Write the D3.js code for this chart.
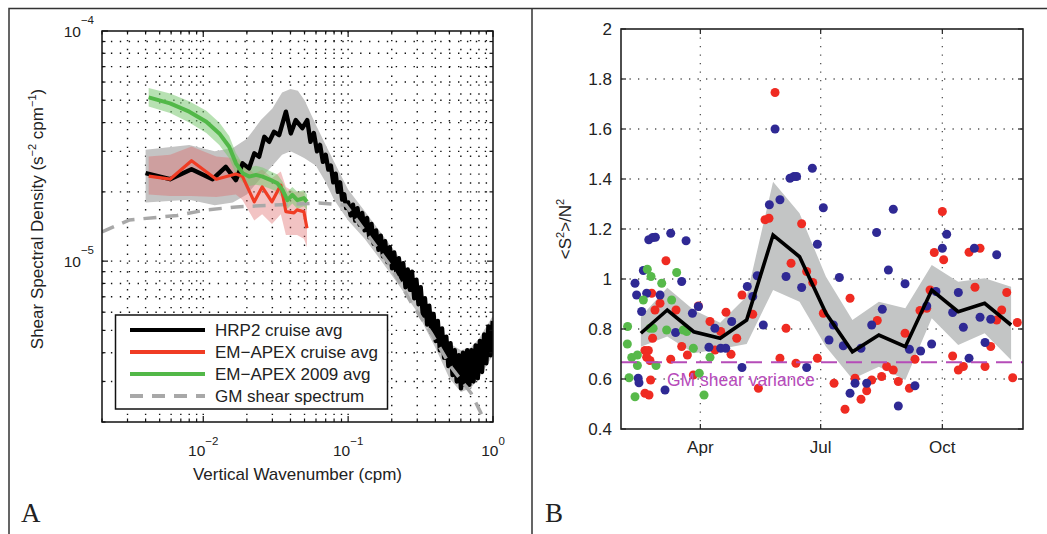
<!DOCTYPE html>
<html><head><meta charset="utf-8">
<script src="https://cdnjs.cloudflare.com/ajax/libs/d3/7.8.5/d3.min.js"></script>
<style>
body{margin:0;background:#fff}
svg{display:block}
text{font-family:"Liberation Sans",Arial,Helvetica,sans-serif;fill:#222}
</style>
</head><body>
<svg id="chart" width="1047" height="534"></svg>
<script>
// ================= PANEL A DATA (wavenumber cpm, spectral density s^-2 cpm^-1) =================
const hrpSpectrum = [
 [0.004,2.41e-5],[0.0059,2.27e-5],[0.0083,2.51e-5],[0.0116,2.27e-5],[0.0143,2.57e-5],[0.0168,2.25e-5],
 [0.0187,2.66e-5],[0.0207,2.53e-5],[0.0225,2.94e-5],[0.0243,2.84e-5],[0.0264,3.47e-5],[0.0285,3.30e-5],
 [0.0308,3.65e-5],[0.0334,3.53e-5],[0.0372,4.46e-5],[0.0402,3.59e-5],[0.0435,4.10e-5],[0.0483,3.78e-5],
 [0.0522,4.10e-5],[0.055,3.3e-5],[0.058,3.6e-5],[0.061,3.0e-5],[0.064,3.2e-5],[0.067,2.7e-5],[0.070,2.9e-5],
 [0.073,2.5e-5],[0.076,2.6e-5],[0.079,2.2e-5],[0.082,2.4e-5],[0.085,2.0e-5],[0.088,2.2e-5],[0.091,1.85e-5],
 [0.094,1.95e-5],[0.097,1.7e-5],[0.100,1.8e-5],[0.104,1.58e-5],[0.108,1.76e-5],[0.112,1.50e-5],[0.116,1.70e-5],
 [0.120,1.44e-5],[0.125,1.62e-5],[0.130,1.36e-5],[0.135,1.54e-5],[0.140,1.27e-5],[0.145,1.45e-5],[0.150,1.19e-5],
 [0.156,1.36e-5],[0.162,1.12e-5],[0.168,1.29e-5],[0.174,1.05e-5],[0.180,1.22e-5],[0.187,9.9e-6],[0.194,1.15e-5],
 [0.201,9.3e-6],[0.208,1.09e-5],[0.216,8.7e-6],[0.224,1.03e-5],[0.232,8.3e-6],[0.240,9.8e-6],[0.249,7.7e-6],
 [0.258,9.2e-6],[0.267,7.5e-6],[0.276,9.0e-6],[0.286,6.9e-6],[0.296,8.3e-6],[0.306,6.5e-6],[0.317,7.7e-6],
 [0.328,5.8e-6],[0.339,6.9e-6],[0.351,5.3e-6],[0.363,6.4e-6],[0.376,4.9e-6],[0.389,5.9e-6],[0.402,4.5e-6],
 [0.416,5.5e-6],[0.430,4.1e-6],[0.445,5.1e-6],[0.460,3.8e-6],[0.476,4.7e-6],[0.492,3.5e-6],[0.509,4.4e-6],
 [0.526,3.2e-6],[0.544,4.1e-6],[0.562,3.0e-6],[0.581,3.9e-6],[0.601,2.8e-6],[0.621,4.0e-6],[0.642,2.9e-6],
 [0.664,4.1e-6],[0.687,2.9e-6],[0.710,4.1e-6],[0.734,3.0e-6],[0.759,4.3e-6],[0.785,3.1e-6],[0.812,4.5e-6],
 [0.840,3.3e-6],[0.869,4.8e-6],[0.899,3.6e-6],[0.930,5.2e-6],[0.962,3.9e-6],[0.995,5.5e-6]
];
// [k, lower, upper]
const hrpBand = [
 [0.004,1.8e-5,3.05e-5],[0.008,1.85e-5,3.2e-5],[0.012,1.75e-5,3.0e-5],[0.016,1.8e-5,3.1e-5],[0.02,1.95e-5,3.4e-5],
 [0.025,2.3e-5,4.1e-5],[0.03,2.6e-5,4.6e-5],[0.035,2.9e-5,5.4e-5],[0.04,3.0e-5,5.6e-5],[0.045,2.9e-5,5.5e-5],
 [0.05,2.8e-5,5.0e-5],[0.06,2.6e-5,3.9e-5],[0.07,2.2e-5,3.2e-5],[0.08,1.85e-5,2.7e-5],[0.1,1.5e-5,2.05e-5],
 [0.13,1.25e-5,1.65e-5],[0.17,1.0e-5,1.32e-5],[0.22,8.0e-6,1.06e-5],[0.3,6.0e-6,8.0e-6],[0.4,4.2e-6,5.6e-6],
 [0.5,3.1e-6,4.4e-6],[0.6,2.7e-6,4.1e-6],[0.7,2.8e-6,4.2e-6],[0.8,3.1e-6,4.6e-6],[0.9,3.5e-6,5.2e-6],[1.0,3.9e-6,5.8e-6]
];
const apexCruise = [
 [0.0042,2.34e-5],[0.0059,2.27e-5],[0.0083,2.73e-5],[0.0123,2.27e-5],[0.0168,2.39e-5],[0.0186,2.34e-5],
 [0.0225,1.81e-5],[0.0255,2.10e-5],[0.0298,1.81e-5],[0.0343,2.14e-5],[0.0372,1.64e-5],[0.0423,1.62e-5],
 [0.0444,1.67e-5],[0.0495,1.64e-5],[0.052,1.39e-5]
];
const apexCruiseBand = [
 [0.0042,1.95e-5,2.85e-5],[0.0059,1.92e-5,2.9e-5],[0.0083,1.92e-5,3.15e-5],[0.0123,1.9e-5,2.85e-5],
 [0.0168,1.95e-5,2.8e-5],[0.0186,1.85e-5,2.7e-5],[0.0225,1.5e-5,2.4e-5],[0.0255,1.6e-5,2.5e-5],
 [0.0298,1.45e-5,2.3e-5],[0.0343,1.6e-5,2.45e-5],[0.0372,1.3e-5,2.1e-5],[0.0423,1.3e-5,2.0e-5],
 [0.0444,1.3e-5,2.0e-5],[0.0495,1.25e-5,2.0e-5],[0.052,1.15e-5,1.8e-5]
];
const apex2009 = [
 [0.0042,5.15e-5],[0.0059,4.85e-5],[0.0080,4.46e-5],[0.0105,4.03e-5],[0.0129,3.59e-5],[0.0151,3.14e-5],
 [0.0168,2.66e-5],[0.0187,2.41e-5],[0.0207,2.33e-5],[0.0231,2.37e-5],[0.0257,2.33e-5],[0.0293,2.25e-5],
 [0.0325,2.18e-5],[0.0352,2.04e-5],[0.0381,1.84e-5],[0.0412,1.94e-5],[0.0446,1.84e-5],[0.0495,1.88e-5],[0.052,1.81e-5]
];
const apex2009Band = [
 [0.0042,4.7e-5,5.65e-5],[0.0059,4.4e-5,5.35e-5],[0.0080,4.0e-5,4.95e-5],[0.0105,3.6e-5,4.5e-5],
 [0.0129,3.2e-5,4.0e-5],[0.0151,2.8e-5,3.5e-5],[0.0168,2.4e-5,2.95e-5],[0.0187,2.2e-5,2.65e-5],
 [0.0207,2.12e-5,2.55e-5],[0.0231,2.15e-5,2.6e-5],[0.0257,2.12e-5,2.55e-5],[0.0293,2.06e-5,2.45e-5],
 [0.0325,2.0e-5,2.38e-5],[0.0352,1.87e-5,2.22e-5],[0.0381,1.69e-5,2.0e-5],[0.0412,1.78e-5,2.1e-5],
 [0.0446,1.69e-5,2.0e-5],[0.0495,1.73e-5,2.03e-5],[0.052,1.67e-5,1.95e-5]
];
const gmSpectrum = [
 [0.002,1.34e-5],[0.0031,1.51e-5],[0.0066,1.58e-5],[0.0105,1.67e-5],[0.0169,1.72e-5],[0.0628,1.79e-5],
 [0.0964,1.75e-5],[0.19,9.8e-6],[0.274,6.56e-6],[0.375,4.86e-6],[0.515,3.46e-6],[0.706,2.67e-6],[0.828,2.18e-6],[1.0,1.8e-6]
];
const xTicksA = [0.01, 0.1, 1];
const xTickExpA = ["\u22122", "\u22121", "0"];
const yTicksA = [1e-5, 1e-4];
const yTickExpA = ["\u22125", "\u22124"];
const legendLabels = ["HRP2 cruise avg", "EM\u2212APEX cruise avg", "EM\u2212APEX 2009 avg", "GM shear spectrum"];

// ================= PANEL B DATA (day of year 2010, <S^2>/N^2) =================
const meanLine = [[46,0.783],[66,0.876],[86,0.789],[106,0.763],[126,0.836],[146,1.176],[166,1.089],[186,0.863],
 [206,0.709],[226,0.776],[246,0.729],[266,0.956],[286,0.869],[306,0.903],[326,0.816]];
const meanBand = [[46,0.729,0.849],[66,0.77,0.965],[86,0.703,0.876],[106,0.72,0.825],[126,0.74,0.93],
 [146,0.956,1.389],[166,0.909,1.263],[186,0.729,1.009],[206,0.6,0.836],[226,0.649,0.909],[246,0.596,0.883],
 [266,0.843,1.056],[286,0.736,0.989],[306,0.783,1.003],[326,0.676,0.969]];
const redDots = [[147.5,1.746],[274,1.270],[65,1.073],[49.1,0.714],[51.7,0.714],[50.4,0.687],[52.9,0.674],
 [49.1,0.543],[52.2,0.536],[53.4,0.596],[54.9,0.763],[56.7,0.876],[54.2,0.943],[60.5,0.903],[72.6,0.876],
 [68.6,0.679],[76.9,0.730],[81.2,0.696],[89.5,0.892],[85.7,0.616],[98.3,0.830],[102.1,0.716],[106.4,0.790],
 [110.4,0.867],[114.2,0.699],[118.5,0.763],[122.5,0.936],[130.6,0.859],[134.9,0.563],[139.9,1.237],
 [142.9,1.243],[151.2,0.683],[155.8,0.803],[159.6,1.063],[163.3,0.663],[167.6,1.221],[171.4,1.030],
 [176,0.986],[179.5,0.683],[184,0.863],[192.1,0.583],[204.2,0.923],[200.4,0.479],[208,0.603],[212.5,0.519],
 [216.8,0.553],[220.6,0.596],[224.8,0.834],[228.1,0.610],[231.9,0.650],[236.9,0.636],[240.7,0.590],
 [245.8,0.783],[249.1,0.563],[253.3,0.679],[257.1,0.874],[262.2,0.883],[264.7,0.956],[267.9,1.106],
 [275,1.077],[281.8,0.692],[286.1,0.636],[289.9,0.650],[294.2,1.107],[298.7,0.967],[302.5,1.123],
 [306.3,0.650],[310.6,0.730],[315.1,0.836],[318.9,0.876],[322.7,0.946],[327.2,0.605],[330.7,0.826]];
const blueDots = [[41.6,0.983],[42.8,0.936],[46.6,0.870],[47.9,1.034],[50.4,0.943],[52,1.157],[55,1.166],
 [57,1.167],[60.5,0.936],[68.6,1.183],[72.3,0.786],[76.9,0.990],[80.2,1.153],[85,0.863],[89.5,0.890],
 [44,0.603],[44.6,0.585],[64.3,0.556],[97.5,0.727],[102,0.803],[106.4,0.723],[110.2,0.723],[114.7,0.830],
 [122.5,0.646],[126.5,0.970],[130.6,0.930],[134,1.013],[138.6,0.816],[143.2,1.297],[147.5,1.600],
 [151.2,1.317],[155.8,1.010],[158.8,1.403],[161.8,1.410],[163.8,1.410],[167.6,0.966],[171.4,0.646],
 [175.7,1.443],[179.5,1.139],[184,1.285],[188.3,0.756],[191.6,0.816],[196.1,1.006],[199.1,0.733],
 [204.2,0.543],[208,0.583],[212.5,0.723],[216.8,0.583],[220.6,0.816],[224.3,1.186],[228.6,0.879],
 [233.2,1.036],[236.9,1.279],[240.7,0.492],[245.8,0.981],[249.1,0.719],[253.3,0.573],[257.6,0.712],
 [262.2,0.892],[265.9,0.740],[269.2,0.950],[274,1.123],[277.3,1.179],[281.8,0.866],[286.1,0.946],
 [289.9,0.807],[294.2,0.683],[298.2,1.123],[302.5,0.847],[306.3,0.746],[310.6,0.839],[315.1,1.097]];
const greenDots = [[36,0.810],[35.8,0.740],[37.1,0.605],[39.1,0.686],[41.6,0.529],[43.4,0.696],[43.4,0.654],
 [47.9,0.916],[50.9,1.039],[53.7,1.010],[52.9,0.803],[55.3,0.803],[57.5,0.654],[61.8,0.983],[65.5,0.796],
 [69.3,0.916],[73.1,1.026],[78.1,0.796],[80.7,0.790],[85.7,0.723],[90.2,0.623],[93.8,0.536],[98.3,0.687]];
const gmVariance = 0.667;
const yTicksB = [0.4,0.6,0.8,1,1.2,1.4,1.6,1.8,2];
const monthTicks = [91, 182, 274];
const monthLabels = ["Apr","Jul","Oct"];

// ================= DRAW =================
const svg = d3.select("#chart");
const defs = svg.append("defs");

// outer figure frame
svg.append("path").attr("d","M9,534V8.5H1047M532,8.5V534")
  .attr("fill","none").attr("stroke","#333").attr("stroke-width",1.5);

// ---------- Panel A ----------
const A = {l:102, r:493, t:31, b:422};
const xA = d3.scaleLog().domain([0.002,1]).range([A.l,A.r]);
const yA = d3.scaleLog().domain([2e-6,1e-4]).range([A.b,A.t]);
defs.append("clipPath").attr("id","clipA").append("rect")
  .attr("x",A.l).attr("y",A.t).attr("width",A.r-A.l).attr("height",A.b-A.t);
const gA = svg.append("g");
const xGridA = xA.ticks().filter(v => xA(v) > A.l+1 && xA(v) < A.r-1);
const yGridA = yA.ticks().filter(v => yA(v) > A.t+1 && yA(v) < A.b-1);
const gridA = gA.append("g").attr("stroke","#111").attr("stroke-width",1.4).attr("stroke-dasharray","1.4,7.5");
gridA.selectAll(".vx").data(xGridA).join("line").attr("x1",d=>xA(d)).attr("x2",d=>xA(d)).attr("y1",A.t).attr("y2",A.b);
gridA.selectAll(".hy").data(yGridA).join("line").attr("y1",d=>yA(d)).attr("y2",d=>yA(d)).attr("x1",A.l).attr("x2",A.r);

const plotA = gA.append("g").attr("clip-path","url(#clipA)");
const bandA = d3.area().x(d=>xA(d[0])).y0(d=>yA(d[1])).y1(d=>yA(d[2]));
const lineA = d3.line().x(d=>xA(d[0])).y(d=>yA(d[1]));
plotA.append("path").attr("d",bandA(hrpBand)).attr("fill","#c4c4c4");
plotA.append("path").attr("d",bandA(apexCruiseBand)).attr("fill","#de6a6a").attr("fill-opacity",0.4);
plotA.append("path").attr("d",bandA(apex2009Band)).attr("fill","#7cc872").attr("fill-opacity",0.55);
plotA.append("path").attr("d",lineA(hrpSpectrum)).attr("fill","none").attr("stroke","#000").attr("stroke-width",4.4).attr("stroke-linejoin","round");
plotA.append("path").attr("d",lineA(gmSpectrum)).attr("fill","none").attr("stroke","#a8a8a8").attr("stroke-width",3.5).attr("stroke-dasharray","13,9");
plotA.append("path").attr("d",lineA(apexCruise)).attr("fill","none").attr("stroke","#f03c24").attr("stroke-width",3.2).attr("stroke-linejoin","round");
plotA.append("path").attr("d",lineA(apex2009)).attr("fill","none").attr("stroke","#52b848").attr("stroke-width",4).attr("stroke-linejoin","round");

// frame & ticks A
gA.append("rect").attr("x",A.l).attr("y",A.t).attr("width",A.r-A.l).attr("height",A.b-A.t)
  .attr("fill","none").attr("stroke","#111").attr("stroke-width",1.5);
const tickA = gA.append("g").attr("stroke","#111").attr("stroke-width",1.2);
xA.ticks().forEach(v=>{
  const len = xTicksA.includes(v) ? 6 : 3.5; const x = xA(v);
  tickA.append("line").attr("x1",x).attr("x2",x).attr("y1",A.b).attr("y2",A.b-len);
  tickA.append("line").attr("x1",x).attr("x2",x).attr("y1",A.t).attr("y2",A.t+len);
});
yA.ticks().forEach(v=>{
  const len = yTicksA.some(t=>Math.abs(t-v)/t<1e-6) ? 6 : 3.5; const y = yA(v);
  tickA.append("line").attr("y1",y).attr("y2",y).attr("x1",A.l).attr("x2",A.l+len);
  tickA.append("line").attr("y1",y).attr("y2",y).attr("x1",A.r).attr("x2",A.r-len);
});
xTicksA.forEach((v,i)=>{
  const t = gA.append("text").attr("x",xA(v)).attr("y",456).attr("text-anchor","middle").attr("font-size",15.5);
  t.append("tspan").text("10");
  t.append("tspan").attr("dy",-11).attr("font-size",11.5).text(xTickExpA[i]);
});
yTicksA.forEach((v,i)=>{
  const t = gA.append("text").attr("x",94).attr("y",yA(v)+6).attr("text-anchor","end").attr("font-size",15.5);
  t.append("tspan").text("10");
  t.append("tspan").attr("dy",-13).attr("font-size",11.5).text(yTickExpA[i]);
});
gA.append("text").attr("x",(A.l+A.r)/2).attr("y",480).attr("text-anchor","middle").attr("font-size",17)
  .text("Vertical Wavenumber (cpm)");
{
  const t = gA.append("text").attr("transform","translate(43,219) rotate(-90)").attr("text-anchor","middle").attr("font-size",17);
  t.append("tspan").text("Shear Spectral Density (s");
  t.append("tspan").attr("dy",-7).attr("font-size",11).text("\u22122");
  t.append("tspan").attr("dy",7).text(" cpm");
  t.append("tspan").attr("dy",-7).attr("font-size",11).text("\u22121");
  t.append("tspan").attr("dy",7).text(")");
}
// legend
const leg = gA.append("g");
leg.append("rect").attr("x",115.5).attr("y",315).attr("width",272).attr("height",94)
  .attr("fill","#fff").attr("stroke","#111").attr("stroke-width",1.5);
const legStyles = [
  {c:"#000",w:4,d:null},{c:"#f03c24",w:4,d:null},{c:"#52b848",w:4,d:null},{c:"#a8a8a8",w:4,d:"13,9"}];
legendLabels.forEach((lab,i)=>{
  const y = 330 + i*22;
  const ln = leg.append("line").attr("x1",130).attr("x2",205).attr("y1",y).attr("y2",y)
    .attr("stroke",legStyles[i].c).attr("stroke-width",legStyles[i].w);
  if (legStyles[i].d) ln.attr("stroke-dasharray",legStyles[i].d);
  leg.append("text").attr("x",215).attr("y",y+6).attr("font-size",17).text(lab);
});
svg.append("text").attr("x",21).attr("y",522).attr("font-size",27)
  .style("font-family","'Liberation Serif','Times New Roman',serif").text("A");

// ---------- Panel B ----------
const B = {l:621, r:1023, t:29, b:429};
const doyDate = d => new Date(Date.UTC(2010,0,1) + (d-1)*864e5);
const xB = d3.scaleUtc().domain([doyDate(31), doyDate(335)]).range([B.l,B.r]);
const yB = d3.scaleLinear().domain([0.4,2]).range([B.b,B.t]);
const gB = svg.append("g");
const gridB = gB.append("g").attr("stroke","#555").attr("stroke-width",1.3).attr("stroke-dasharray","1.3,7.2");
gridB.selectAll(".gv").data(monthTicks).join("line").attr("x1",d=>xB(doyDate(d))).attr("x2",d=>xB(doyDate(d))).attr("y1",B.t).attr("y2",B.b);
gridB.selectAll(".gh").data(yTicksB.slice(1,-1)).join("line").attr("y1",d=>yB(d)).attr("y2",d=>yB(d)).attr("x1",B.l).attr("x2",B.r);

const plotB = gB.append("g");
plotB.append("path").attr("d", d3.area().x(d=>xB(doyDate(d[0]))).y0(d=>yB(d[1])).y1(d=>yB(d[2]))(meanBand))
  .attr("fill","#c3c5c5");
const dotSets = [[redDots,"#ef2b22"],[blueDots,"#2f2994"],[greenDots,"#57b94a"]];
dotSets.forEach(([data,col])=>{
  plotB.append("g").selectAll("circle").data(data).join("circle")
    .attr("cx",d=>xB(doyDate(d[0]))).attr("cy",d=>yB(d[1])).attr("r",4.5).attr("fill",col);
});
plotB.append("line").attr("x1",B.l).attr("x2",B.r).attr("y1",yB(gmVariance)).attr("y2",yB(gmVariance))
  .attr("stroke","#b54cb8").attr("stroke-width",2.2).attr("stroke-dasharray","16,9");
plotB.append("path").attr("d", d3.line().x(d=>xB(doyDate(d[0]))).y(d=>yB(d[1]))(meanLine))
  .attr("fill","none").attr("stroke","#000").attr("stroke-width",3.6).attr("stroke-linejoin","miter");
gB.append("text").attr("x",667).attr("y",386).attr("font-size",17.5).style("fill","#b84cbb").text("GM shear variance");

gB.append("rect").attr("x",B.l).attr("y",B.t).attr("width",B.r-B.l).attr("height",B.b-B.t)
  .attr("fill","none").attr("stroke","#222").attr("stroke-width",1.6);
const tickB = gB.append("g").attr("stroke","#222").attr("stroke-width",1.2);
yTicksB.forEach(v=>{
  tickB.append("line").attr("x1",B.l).attr("x2",B.l+5).attr("y1",yB(v)).attr("y2",yB(v));
  tickB.append("line").attr("x1",B.r).attr("x2",B.r-5).attr("y1",yB(v)).attr("y2",yB(v));
  gB.append("text").attr("x",612).attr("y",yB(v)+6).attr("text-anchor","end").attr("font-size",17)
    .text(d3.format("~g")(v));
});
monthTicks.forEach((d,i)=>{
  const x = xB(doyDate(d));
  tickB.append("line").attr("x1",x).attr("x2",x).attr("y1",B.b).attr("y2",B.b-5);
  tickB.append("line").attr("x1",x).attr("x2",x).attr("y1",B.t).attr("y2",B.t+5);
  gB.append("text").attr("x",x).attr("y",453).attr("text-anchor","middle").attr("font-size",17).text(monthLabels[i]);
});
{
  const t = gB.append("text").attr("transform","translate(571,229) rotate(-90)").attr("text-anchor","middle").attr("font-size",17);
  t.append("tspan").text("<S");
  t.append("tspan").attr("dy",-7).attr("font-size",11).text("2");
  t.append("tspan").attr("dy",7).text(">/N");
  t.append("tspan").attr("dy",-7).attr("font-size",11).text("2");
}
svg.append("text").attr("x",545).attr("y",522).attr("font-size",27)
  .style("font-family","'Liberation Serif','Times New Roman',serif").text("B");
</script>
</body></html>
